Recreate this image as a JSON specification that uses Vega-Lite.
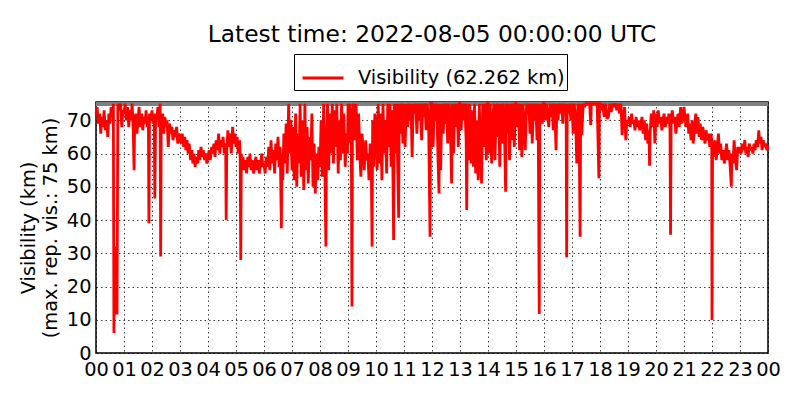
{
  "$schema": "https://vega.github.io/schema/vega-lite/v6.json",
  "width": 672,
  "height": 251,
  "autosize": "none",
  "padding": {"left": 96, "top": 102, "right": 32, "bottom": 47},
  "background": "white",
  "title": {
    "text": "Latest time: 2022-08-05 00:00:00 UTC",
    "anchor": "middle",
    "frame": "group",
    "font": "DejaVu Sans",
    "fontSize": 23.3,
    "fontWeight": "normal",
    "color": "black",
    "baseline": "alphabetic",
    "offset": -12
  },
  "config": {
    "font": "DejaVu Sans",
    "view": {"stroke": "black", "strokeWidth": 1.5},
    "axis": {
      "labelFont": "DejaVu Sans",
      "labelFontSize": 19.4,
      "labelColor": "black",
      "titleFont": "DejaVu Sans",
      "titleFontSize": 19.4,
      "titleFontWeight": "normal",
      "titleColor": "black",
      "domain": false,
      "ticks": false,
      "labelPadding": 5,
      "grid": true,
      "gridColor": "black",
      "gridDash": [1.5, 3],
      "gridWidth": 1,
      "gridOpacity": 0.75
    }
  },
  "data": {
    "values": [
      {"h":0.00,"v":72},{"h":0.04,"v":74},{"h":0.08,"v":69},{"h":0.13,"v":72},{"h":0.17,"v":66},{"h":0.21,"v":71},{"h":0.25,"v":68},{"h":0.29,"v":73},{"h":0.33,"v":67},{"h":0.38,"v":70},{"h":0.42,"v":65},{"h":0.46,"v":72},{"h":0.50,"v":69},{"h":0.54,"v":74},{"h":0.58,"v":71},{"h":0.62,"v":75},{"h":0.64,"v":6},{"h":0.66,"v":31},{"h":0.70,"v":32},{"h":0.72,"v":12},{"h":0.75,"v":12},{"h":0.78,"v":75},{"h":0.83,"v":73},{"h":0.88,"v":75},{"h":0.92,"v":68},{"h":0.96,"v":73},
      {"h":1.00,"v":72},{"h":1.04,"v":75},{"h":1.08,"v":70},{"h":1.13,"v":74},{"h":1.17,"v":68},{"h":1.21,"v":73},{"h":1.25,"v":70},{"h":1.29,"v":75},{"h":1.33,"v":67},{"h":1.36,"v":55},{"h":1.38,"v":70},{"h":1.42,"v":72},{"h":1.46,"v":66},{"h":1.50,"v":70},{"h":1.54,"v":74},{"h":1.58,"v":68},{"h":1.63,"v":72},{"h":1.67,"v":67},{"h":1.71,"v":71},{"h":1.75,"v":69},{"h":1.79,"v":73},{"h":1.83,"v":68},{"h":1.87,"v":71},{"h":1.89,"v":39},{"h":1.91,"v":72},{"h":1.96,"v":70},
      {"h":2.00,"v":73},{"h":2.04,"v":69},{"h":2.08,"v":72},{"h":2.10,"v":46.5},{"h":2.13,"v":72},{"h":2.17,"v":70},{"h":2.21,"v":74},{"h":2.25,"v":68},{"h":2.29,"v":75},{"h":2.31,"v":29},{"h":2.33,"v":70},{"h":2.38,"v":72},{"h":2.42,"v":66},{"h":2.46,"v":71},{"h":2.50,"v":68},{"h":2.54,"v":70},{"h":2.58,"v":62},{"h":2.63,"v":69},{"h":2.67,"v":66},{"h":2.71,"v":68},{"h":2.75,"v":64},{"h":2.79,"v":67},{"h":2.83,"v":65},{"h":2.88,"v":68},{"h":2.92,"v":63},{"h":2.96,"v":66},
      {"h":3.00,"v":65},{"h":3.04,"v":63},{"h":3.08,"v":66},{"h":3.13,"v":62},{"h":3.17,"v":65},{"h":3.21,"v":61},{"h":3.25,"v":64},{"h":3.29,"v":60},{"h":3.33,"v":63},{"h":3.38,"v":58},{"h":3.42,"v":61},{"h":3.46,"v":57},{"h":3.50,"v":60},{"h":3.54,"v":56},{"h":3.58,"v":59},{"h":3.63,"v":57},{"h":3.67,"v":61},{"h":3.71,"v":58},{"h":3.75,"v":62},{"h":3.79,"v":59},{"h":3.83,"v":61},{"h":3.88,"v":58},{"h":3.92,"v":60},{"h":3.96,"v":57},
      {"h":4.00,"v":59},{"h":4.04,"v":61},{"h":4.08,"v":58},{"h":4.13,"v":62},{"h":4.17,"v":60},{"h":4.21,"v":63},{"h":4.25,"v":59},{"h":4.29,"v":64},{"h":4.33,"v":61},{"h":4.38,"v":66},{"h":4.42,"v":60},{"h":4.46,"v":64},{"h":4.50,"v":62},{"h":4.54,"v":65},{"h":4.58,"v":60},{"h":4.63,"v":63},{"h":4.65,"v":40},{"h":4.67,"v":61},{"h":4.71,"v":67},{"h":4.75,"v":62},{"h":4.79,"v":66},{"h":4.83,"v":60},{"h":4.88,"v":68},{"h":4.92,"v":63},{"h":4.96,"v":66},
      {"h":5.00,"v":62},{"h":5.04,"v":65},{"h":5.08,"v":60},{"h":5.13,"v":64},{"h":5.15,"v":58},{"h":5.17,"v":28},{"h":5.19,"v":60},{"h":5.21,"v":56},{"h":5.25,"v":59},{"h":5.29,"v":55},{"h":5.33,"v":58},{"h":5.38,"v":54},{"h":5.42,"v":59},{"h":5.46,"v":56},{"h":5.50,"v":60},{"h":5.54,"v":55},{"h":5.58,"v":58},{"h":5.63,"v":54},{"h":5.67,"v":57},{"h":5.71,"v":59},{"h":5.75,"v":55},{"h":5.79,"v":58},{"h":5.83,"v":54},{"h":5.88,"v":57},{"h":5.92,"v":60},{"h":5.96,"v":56},
      {"h":6.00,"v":57},{"h":6.04,"v":54},{"h":6.08,"v":59},{"h":6.13,"v":56},{"h":6.17,"v":62},{"h":6.21,"v":55},{"h":6.25,"v":64},{"h":6.29,"v":57},{"h":6.33,"v":61},{"h":6.38,"v":54},{"h":6.42,"v":63},{"h":6.46,"v":58},{"h":6.50,"v":65},{"h":6.54,"v":56},{"h":6.58,"v":62},{"h":6.62,"v":37.5},{"h":6.64,"v":60},{"h":6.67,"v":52},{"h":6.71,"v":66},{"h":6.75,"v":57},{"h":6.79,"v":69},{"h":6.83,"v":54},{"h":6.88,"v":75},{"h":6.92,"v":60},{"h":6.96,"v":70},
      {"h":7.00,"v":55},{"h":7.04,"v":68},{"h":7.08,"v":52},{"h":7.13,"v":72},{"h":7.17,"v":50},{"h":7.21,"v":66},{"h":7.25,"v":57},{"h":7.29,"v":75},{"h":7.33,"v":53},{"h":7.38,"v":70},{"h":7.42,"v":49},{"h":7.46,"v":75},{"h":7.50,"v":55},{"h":7.54,"v":68},{"h":7.58,"v":51},{"h":7.63,"v":65},{"h":7.67,"v":58},{"h":7.71,"v":72},{"h":7.75,"v":50},{"h":7.79,"v":63},{"h":7.83,"v":48},{"h":7.88,"v":60},{"h":7.92,"v":52},{"h":7.96,"v":62},
      {"h":8.00,"v":56},{"h":8.04,"v":70},{"h":8.08,"v":53},{"h":8.13,"v":75},{"h":8.17,"v":58},{"h":8.21,"v":32},{"h":8.23,"v":62},{"h":8.27,"v":75},{"h":8.31,"v":55},{"h":8.35,"v":72},{"h":8.40,"v":60},{"h":8.44,"v":75},{"h":8.48,"v":57},{"h":8.52,"v":73},{"h":8.56,"v":62},{"h":8.60,"v":75},{"h":8.65,"v":54},{"h":8.69,"v":70},{"h":8.73,"v":58},{"h":8.77,"v":75},{"h":8.81,"v":60},{"h":8.85,"v":72},{"h":8.90,"v":56},{"h":8.94,"v":66},{"h":8.98,"v":60},
      {"h":9.00,"v":75},{"h":9.04,"v":63},{"h":9.08,"v":75},{"h":9.12,"v":62},{"h":9.14,"v":14},{"h":9.16,"v":70},{"h":9.20,"v":75},{"h":9.25,"v":64},{"h":9.29,"v":75},{"h":9.33,"v":58},{"h":9.38,"v":72},{"h":9.42,"v":60},{"h":9.46,"v":53},{"h":9.50,"v":66},{"h":9.54,"v":61},{"h":9.58,"v":55},{"h":9.63,"v":64},{"h":9.67,"v":58},{"h":9.71,"v":60},{"h":9.75,"v":52},{"h":9.79,"v":63},{"h":9.83,"v":57},{"h":9.86,"v":32},{"h":9.88,"v":70},{"h":9.92,"v":56},{"h":9.96,"v":72},
      {"h":10.00,"v":68},{"h":10.04,"v":55},{"h":10.08,"v":75},{"h":10.13,"v":57},{"h":10.17,"v":72},{"h":10.21,"v":52},{"h":10.25,"v":75},{"h":10.29,"v":60},{"h":10.33,"v":70},{"h":10.38,"v":54},{"h":10.42,"v":75},{"h":10.46,"v":62},{"h":10.50,"v":75},{"h":10.54,"v":56},{"h":10.58,"v":73},{"h":10.63,"v":34},{"h":10.65,"v":75},{"h":10.69,"v":60},{"h":10.73,"v":75},{"h":10.77,"v":58},{"h":10.81,"v":40.7},{"h":10.83,"v":75},{"h":10.88,"v":66},{"h":10.92,"v":75},{"h":10.96,"v":63},
      {"h":11.00,"v":75},{"h":11.04,"v":62},{"h":11.08,"v":75},{"h":11.13,"v":68},{"h":11.17,"v":75},{"h":11.21,"v":70},{"h":11.25,"v":75},{"h":11.29,"v":59},{"h":11.33,"v":75},{"h":11.38,"v":72},{"h":11.42,"v":75},{"h":11.46,"v":66},{"h":11.50,"v":75},{"h":11.54,"v":70},{"h":11.58,"v":75},{"h":11.63,"v":64},{"h":11.67,"v":75},{"h":11.71,"v":71},{"h":11.75,"v":75},{"h":11.79,"v":67},{"h":11.83,"v":75},{"h":11.88,"v":69},{"h":11.93,"v":35},{"h":11.95,"v":75},
      {"h":12.00,"v":75},{"h":12.04,"v":62},{"h":12.08,"v":75},{"h":12.13,"v":70},{"h":12.17,"v":75},{"h":12.21,"v":60},{"h":12.25,"v":48},{"h":12.27,"v":75},{"h":12.31,"v":55},{"h":12.35,"v":75},{"h":12.40,"v":66},{"h":12.44,"v":75},{"h":12.48,"v":69},{"h":12.52,"v":75},{"h":12.56,"v":63},{"h":12.60,"v":75},{"h":12.65,"v":72},{"h":12.70,"v":51},{"h":12.72,"v":75},{"h":12.77,"v":60},{"h":12.81,"v":75},{"h":12.85,"v":68},{"h":12.90,"v":75},{"h":12.94,"v":62},{"h":12.98,"v":75},
      {"h":13.00,"v":75},{"h":13.04,"v":67},{"h":13.08,"v":75},{"h":13.13,"v":70},{"h":13.17,"v":75},{"h":13.22,"v":64},{"h":13.24,"v":43},{"h":13.27,"v":75},{"h":13.31,"v":58},{"h":13.35,"v":75},{"h":13.40,"v":57},{"h":13.44,"v":73},{"h":13.48,"v":56},{"h":13.52,"v":75},{"h":13.56,"v":54},{"h":13.60,"v":70},{"h":13.65,"v":52},{"h":13.69,"v":75},{"h":13.73,"v":60},{"h":13.77,"v":51},{"h":13.81,"v":75},{"h":13.85,"v":62},{"h":13.90,"v":75},{"h":13.94,"v":58},{"h":13.98,"v":75},
      {"h":14.00,"v":75},{"h":14.04,"v":60},{"h":14.08,"v":75},{"h":14.13,"v":57},{"h":14.17,"v":70},{"h":14.21,"v":75},{"h":14.25,"v":58},{"h":14.29,"v":75},{"h":14.33,"v":65},{"h":14.38,"v":75},{"h":14.42,"v":56},{"h":14.46,"v":75},{"h":14.50,"v":63},{"h":14.54,"v":75},{"h":14.58,"v":70},{"h":14.63,"v":48.5},{"h":14.65,"v":75},{"h":14.69,"v":66},{"h":14.73,"v":75},{"h":14.77,"v":58},{"h":14.81,"v":75},{"h":14.85,"v":64},{"h":14.90,"v":75},{"h":14.94,"v":62},{"h":14.98,"v":75},
      {"h":15.00,"v":75},{"h":15.04,"v":68},{"h":15.08,"v":75},{"h":15.13,"v":61},{"h":15.17,"v":75},{"h":15.21,"v":59},{"h":15.25,"v":75},{"h":15.29,"v":70},{"h":15.33,"v":61},{"h":15.38,"v":75},{"h":15.42,"v":72},{"h":15.46,"v":75},{"h":15.50,"v":66},{"h":15.54,"v":75},{"h":15.58,"v":63},{"h":15.63,"v":75},{"h":15.67,"v":70},{"h":15.71,"v":75},{"h":15.75,"v":64},{"h":15.79,"v":75},{"h":15.83,"v":11.7},{"h":15.85,"v":72},{"h":15.90,"v":75},{"h":15.94,"v":69},{"h":15.98,"v":75},
      {"h":16.00,"v":75},{"h":16.04,"v":70},{"h":16.08,"v":75},{"h":16.13,"v":72},{"h":16.17,"v":68},{"h":16.21,"v":75},{"h":16.25,"v":71},{"h":16.29,"v":75},{"h":16.33,"v":67},{"h":16.38,"v":75},{"h":16.43,"v":61},{"h":16.46,"v":75},{"h":16.50,"v":70},{"h":16.54,"v":75},{"h":16.58,"v":72},{"h":16.63,"v":75},{"h":16.67,"v":69},{"h":16.71,"v":75},{"h":16.75,"v":73},{"h":16.79,"v":75},{"h":16.81,"v":28.8},{"h":16.83,"v":75},{"h":16.88,"v":72},{"h":16.92,"v":75},{"h":16.96,"v":70},
      {"h":17.00,"v":75},{"h":17.04,"v":66},{"h":17.08,"v":75},{"h":17.13,"v":70},{"h":17.17,"v":57},{"h":17.21,"v":75},{"h":17.25,"v":72},{"h":17.29,"v":35},{"h":17.31,"v":75},{"h":17.35,"v":65.5},{"h":17.40,"v":75},{"h":17.44,"v":74},{"h":17.50,"v":75},{"h":17.56,"v":75},{"h":17.63,"v":75},{"h":17.67,"v":68.5},{"h":17.69,"v":75},{"h":17.75,"v":75},{"h":17.83,"v":75},{"h":17.90,"v":75},{"h":17.96,"v":52.6},{"h":17.98,"v":75},
      {"h":18.00,"v":75},{"h":18.05,"v":73},{"h":18.10,"v":75},{"h":18.15,"v":71},{"h":18.20,"v":75},{"h":18.25,"v":70.5},{"h":18.30,"v":71},{"h":18.35,"v":75},{"h":18.40,"v":72.5},{"h":18.45,"v":75},{"h":18.50,"v":74},{"h":18.55,"v":75},{"h":18.60,"v":73},{"h":18.65,"v":75},{"h":18.70,"v":72},{"h":18.75,"v":75},{"h":18.79,"v":65.5},{"h":18.83,"v":71},{"h":18.88,"v":74},{"h":18.92,"v":64},{"h":18.96,"v":70},
      {"h":19.00,"v":69},{"h":19.04,"v":71},{"h":19.08,"v":68},{"h":19.13,"v":72},{"h":19.17,"v":69},{"h":19.21,"v":70},{"h":19.25,"v":67},{"h":19.29,"v":71},{"h":19.33,"v":68},{"h":19.38,"v":70},{"h":19.42,"v":67},{"h":19.46,"v":69},{"h":19.50,"v":71},{"h":19.54,"v":66},{"h":19.58,"v":70},{"h":19.63,"v":64},{"h":19.67,"v":69},{"h":19.71,"v":63},{"h":19.75,"v":67},{"h":19.77,"v":56.3},{"h":19.79,"v":66},{"h":19.83,"v":72},{"h":19.88,"v":68},{"h":19.92,"v":73},{"h":19.96,"v":63},
      {"h":20.00,"v":72},{"h":20.04,"v":68},{"h":20.08,"v":73},{"h":20.13,"v":69},{"h":20.17,"v":71},{"h":20.21,"v":67},{"h":20.25,"v":70},{"h":20.29,"v":72},{"h":20.33,"v":68},{"h":20.38,"v":71},{"h":20.42,"v":69},{"h":20.46,"v":72},{"h":20.50,"v":67},{"h":20.52,"v":35.6},{"h":20.54,"v":70},{"h":20.58,"v":73},{"h":20.63,"v":69},{"h":20.67,"v":71},{"h":20.71,"v":66},{"h":20.75,"v":70},{"h":20.79,"v":72},{"h":20.83,"v":68},{"h":20.88,"v":74},{"h":20.92,"v":69},{"h":20.96,"v":71},
      {"h":21.00,"v":74},{"h":21.04,"v":70},{"h":21.08,"v":68},{"h":21.13,"v":72},{"h":21.17,"v":66},{"h":21.21,"v":69},{"h":21.25,"v":64},{"h":21.29,"v":70},{"h":21.33,"v":63},{"h":21.38,"v":68},{"h":21.42,"v":72},{"h":21.46,"v":66},{"h":21.50,"v":71},{"h":21.54,"v":65},{"h":21.58,"v":69},{"h":21.63,"v":64},{"h":21.67,"v":68},{"h":21.71,"v":66},{"h":21.75,"v":63},{"h":21.79,"v":67},{"h":21.83,"v":64},{"h":21.88,"v":66},{"h":21.92,"v":62},{"h":21.96,"v":66},{"h":21.99,"v":64},
      {"h":22.00,"v":9.9},{"h":22.02,"v":63},{"h":22.06,"v":59},{"h":22.10,"v":64},{"h":22.15,"v":58},{"h":22.19,"v":62},{"h":22.23,"v":66},{"h":22.27,"v":60},{"h":22.31,"v":63},{"h":22.35,"v":58},{"h":22.40,"v":61},{"h":22.44,"v":57},{"h":22.48,"v":60},{"h":22.52,"v":63},{"h":22.56,"v":58},{"h":22.60,"v":61},{"h":22.65,"v":56},{"h":22.69,"v":50},{"h":22.71,"v":60},{"h":22.75,"v":57},{"h":22.79,"v":64},{"h":22.83,"v":59},{"h":22.88,"v":55},{"h":22.92,"v":62},{"h":22.96,"v":60},
      {"h":23.00,"v":62},{"h":23.04,"v":60},{"h":23.08,"v":63},{"h":23.13,"v":61},{"h":23.17,"v":64},{"h":23.21,"v":60},{"h":23.25,"v":62},{"h":23.29,"v":59},{"h":23.33,"v":63},{"h":23.38,"v":61},{"h":23.42,"v":62},{"h":23.46,"v":60},{"h":23.50,"v":63},{"h":23.54,"v":61},{"h":23.58,"v":64},{"h":23.63,"v":62},{"h":23.67,"v":67},{"h":23.71,"v":63},{"h":23.75,"v":65},{"h":23.79,"v":61},{"h":23.83,"v":64},{"h":23.88,"v":62},{"h":23.92,"v":63},{"h":23.96,"v":61},{"h":24.00,"v":62.262}
    ]
  },
  "encoding": {
    "x": {
      "field": "h",
      "type": "quantitative",
      "scale": {"domain": [0, 24], "nice": false},
      "axis": {
        "title": null,
        "values": [0,1,2,3,4,5,6,7,8,9,10,11,12,13,14,15,16,17,18,19,20,21,22,23,24],
        "labelExpr": "datum.value == 24 ? '00' : (datum.value < 10 ? '0' + datum.value : '' + datum.value)",
        "labelFlush": false,
        "labelOverlap": false,
        "labelPadding": 7
      }
    },
    "y": {
      "field": "v",
      "type": "quantitative",
      "scale": {"domain": [0, 75.5], "nice": false},
      "axis": {
        "title": ["Visibility (km)", "(max. rep. vis.: 75 km)"],
        "titleLineHeight": 22,
        "titlePadding": 6,
        "values": [0,10,20,30,40,50,60,70],
        "labelFlush": false
      }
    }
  },
  "layer": [
    {
      "mark": {"type": "rule", "color": "#808080", "strokeWidth": 3},
      "encoding": {"y": {"datum": 75}, "x": {"value": 0}, "x2": {"value": 672}}
    },
    {
      "mark": {"type": "line", "strokeWidth": 2.8, "strokeJoin": "miter", "strokeMiterLimit": 2, "interpolate": "linear"},
      "encoding": {
        "color": {
          "datum": "Visibility (62.262 km)",
          "type": "nominal",
          "scale": {"range": ["#ff0000"]},
          "legend": {
            "title": null,
            "orient": "none",
            "legendX": 198,
            "legendY": -48,
            "strokeColor": "black",
            "fillColor": "white",
            "padding": 2,
            "cornerRadius": 0,
            "symbolType": "stroke",
            "symbolStrokeWidth": 3,
            "symbolSize": 1681,
            "symbolOffset": 5,
            "labelFont": "DejaVu Sans",
            "labelFontSize": 19.4,
            "labelLimit": 400,
            "labelColor": "black",
            "labelOffset": 13
          }
        }
      }
    }
  ]
}
